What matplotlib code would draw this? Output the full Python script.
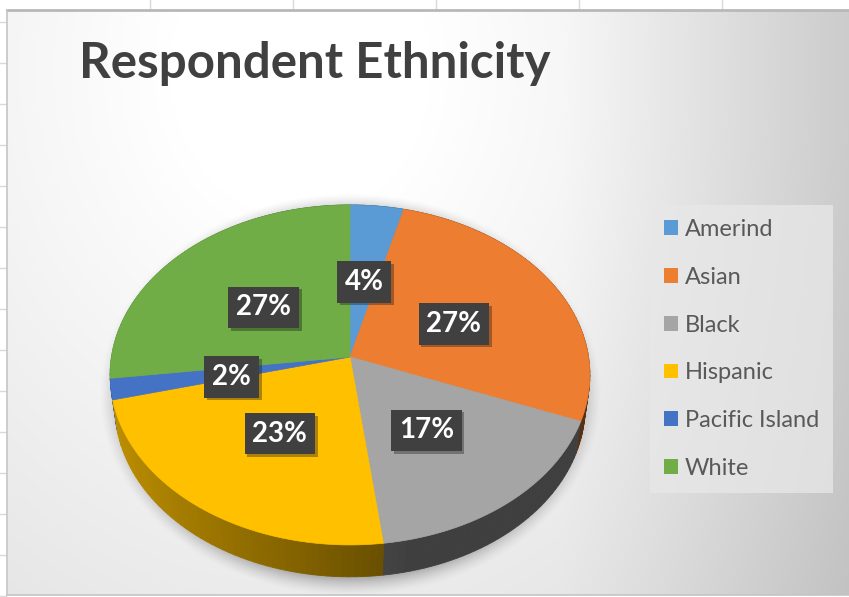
import numpy as np
import matplotlib
matplotlib.use('Agg')
import matplotlib.pyplot as plt
from matplotlib.patches import Polygon, Patch
import matplotlib.patheffects as pe

# Survey shares by ethnicity (percent)
categories = ['Amerind', 'Asian', 'Black', 'Hispanic', 'Pacific Island', 'White']
shares = [4, 27, 17, 23, 2, 27]
colors = ['#5b9bd5', '#ed7d31', '#a5a5a5', '#ffc000', '#4472c4', '#70ad47']
title = 'Respondent Ethnicity'

W, H = 849, 597
plt.rcParams['font.family'] = ['Lato', 'DejaVu Sans']

fig = plt.figure(figsize=(W / 100, H / 100), dpi=100)
ax = fig.add_axes([0, 0, 1, 1])
ax.set_xlim(0, W)
ax.set_ylim(H, 0)
ax.axis('off')

# spreadsheet cells behind the chart
for gx in np.arange(150, W, 143):
    ax.plot([gx, gx], [0, 10], color='#d9d9d9', lw=1, zorder=0)
for gy in np.arange(22, H, 41):
    ax.plot([0, 6], [gy, gy], color='#d9d9d9', lw=1, zorder=0)

# chart area with a soft grey gradient
x0, y0, x1, y1 = 8, 11, W, 595
gx, gy = np.meshgrid(np.arange(x0, x1), np.arange(y0, y1))
dist = np.hypot(gx - 300, (gy - 70) / 1.15)
val = 255 - 0.06 * np.clip(dist - 130, 0, None) - 26 * np.clip((gx - 560) / 290, 0, 1)
val = np.clip(val, 0, 255) / 255
bg = np.dstack([val, val, val])
ax.imshow(bg, extent=(x0, x1, y1, y0), interpolation='bilinear', zorder=1, aspect='auto')
ax.plot([x0 - 1, W], [10, 10], color='#b8b8b8', lw=2, zorder=2)
ax.plot([7, 7], [10, 595], color='#c4c4c4', lw=1.2, zorder=2)
ax.plot([7, W], [595, 595], color='#c4c4c4', lw=1.2, zorder=2)

# perspective projection of the pie disc
cx, cy = 350, 357
elev = np.radians(44.8)
cam_d = 6.72
focal = 1603
depth_h = 0.195


def project(x, y, z):
    d = cam_d + y * np.cos(elev) - z * np.sin(elev)
    sx = cx + focal * x / d
    sy = cy - focal * (y * np.sin(elev) + z * np.cos(elev)) / d
    return sx, sy


# drop shadow under the pie
sh_rho = np.hypot((gx - 350) / 252, (gy - 394) / 202)
sh_alpha = 0.3 * np.clip((1.0 - sh_rho) / 0.1, 0, 1) ** 1.5
shadow = np.zeros(gx.shape + (4,))
shadow[..., 3] = sh_alpha
ax.imshow(shadow, extent=(x0, x1, y1, y0), interpolation='bilinear', zorder=2, aspect='auto')

fractions = np.array(shares, dtype=float) / sum(shares)
bounds = np.concatenate([[0], np.cumsum(fractions)]) * 2 * np.pi

# side wall, drawn far to near
quads = []
for i, col in enumerate(colors):
    th = np.linspace(bounds[i], bounds[i + 1], max(4, int(fractions[i] * 240)))
    rgb = np.array(matplotlib.colors.to_rgb(col))
    for a, b in zip(th[:-1], th[1:]):
        xs = np.sin([a, b])
        ys = np.cos([a, b])
        tx, ty = project(xs, ys, 0)
        bx, by = project(xs, ys, -depth_h)
        mid = 0.5 * (a + b)
        shade = np.clip(0.45 - 0.3 * np.sin(mid), 0.38, 0.8)
        quads.append((np.cos(mid), [(tx[0], ty[0]), (tx[1], ty[1]), (bx[1], by[1]), (bx[0], by[0])], rgb * shade))
quads.sort(key=lambda q: -q[0])
for _, pts, c in quads:
    ax.add_patch(Polygon(pts, closed=True, fc=c, ec=c, lw=0.6, zorder=3))

# top surface
for i, col in enumerate(colors):
    th = np.linspace(bounds[i], bounds[i + 1], max(4, int(fractions[i] * 400)))
    px, py = project(np.sin(th), np.cos(th), 0)
    pts = [(cx, cy)] + list(zip(px, py))
    ax.add_patch(Polygon(pts, closed=True, fc=col, ec=col, lw=0.5, zorder=4))

# percentage labels
for i in range(len(shares)):
    mid = 0.5 * (bounds[i] + bounds[i + 1])
    lx, ly = project(0.5 * np.sin(mid), 0.5 * np.cos(mid), 0)
    t = ax.text(lx, ly + 4, f'{shares[i]}%', color='white', fontsize=20, fontweight='bold',
                ha='center', va='center', zorder=6,
                bbox=dict(boxstyle='square,pad=0.28', fc='#404040', ec='none'))
    t.get_bbox_patch().set_path_effects([pe.SimplePatchShadow(offset=(2, -2), alpha=0.35), pe.Normal()])

ax.text(79, 78, title, fontsize=35.5, fontweight='bold', color='#404040',
        ha='left', va='baseline', zorder=6)

handles = [Patch(fc=c, ec='none') for c in colors]
leg = ax.legend(handles, categories, loc='upper left',
                bbox_to_anchor=(650 / W, 1 - 205 / H), fontsize=17,
                frameon=True, fancybox=False, facecolor='#e8e8e8', framealpha=0.75,
                edgecolor='none', handlelength=0.58, handleheight=0.58,
                handletextpad=0.3, labelspacing=1.13, borderpad=0.6,
                borderaxespad=0)
leg.set_zorder(7)
for txt in leg.get_texts():
    txt.set_color('#595959')

fig.savefig('out.png', dpi=100)
